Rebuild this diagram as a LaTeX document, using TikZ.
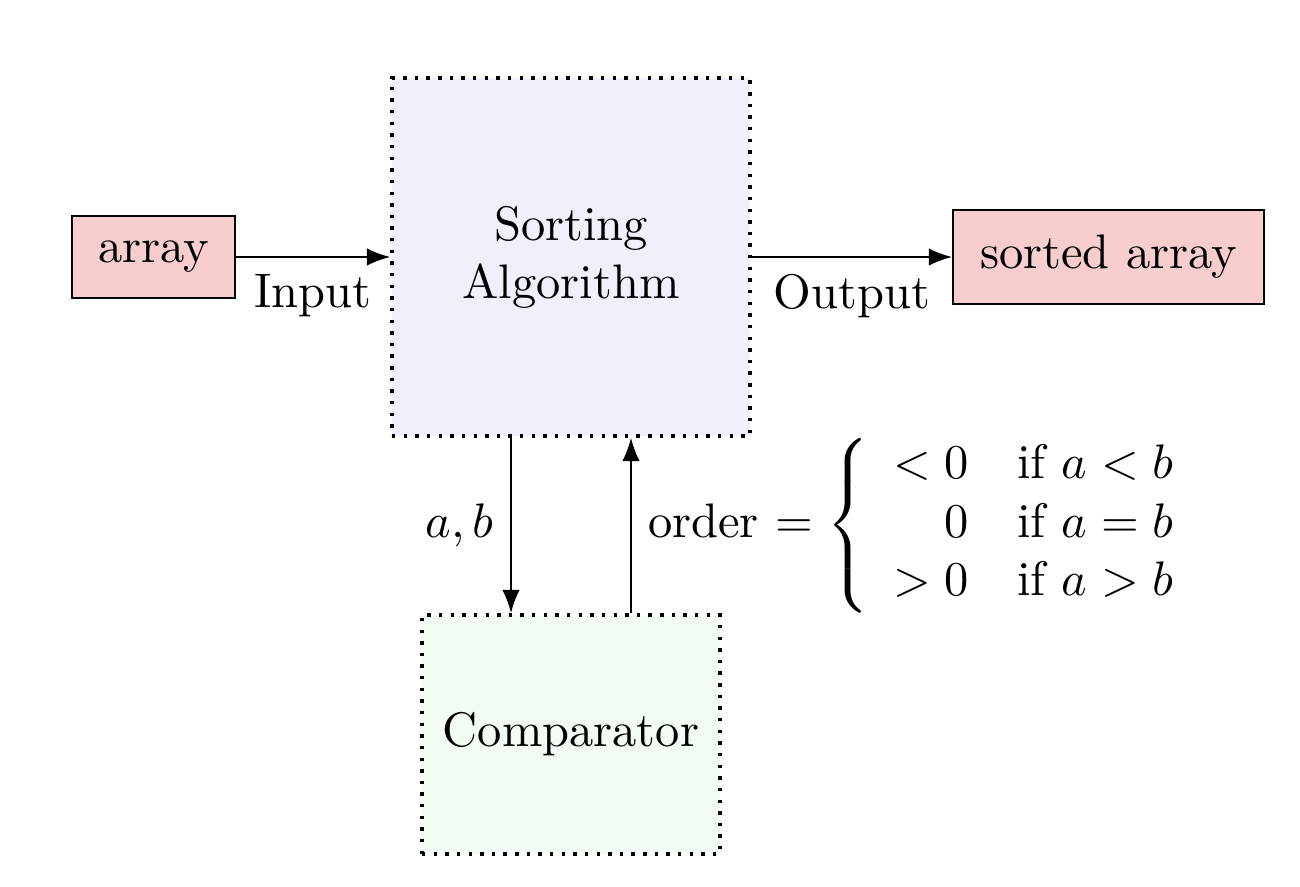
\documentclass[tikz,border=0pt]{standalone}
\usepackage{amsmath}
\usetikzlibrary{arrows.meta,calc}
\definecolor{boxpink}{RGB}{247,206,205}
\definecolor{boxblue}{RGB}{240,240,252}
\definecolor{boxgreen}{RGB}{242,252,242}
\begin{document}
\begin{tikzpicture}[x=0.2062pt,y=-0.2062pt,
  databox/.style={draw, fill=boxpink, line width=0.4pt, inner sep=0pt, align=center},
  procbox/.style={draw, line width=0.75pt, dash pattern=on 0.7pt off 1.7pt, inner sep=0pt, align=center},
  arr/.style={-{Latex[length=4.8pt,width=3.6pt]}, line width=0.4pt}]
\useasboundingbox (0,0) rectangle (1300,886);
\node[databox, minimum width=33.6pt, minimum height=16.9pt] (input) at (153.5,257) {array};
\node[procbox, fill=boxblue, minimum width=73.8pt, minimum height=73.8pt] (sort) at (571,257) {Sorting\\Algorithm};
\node[databox, minimum width=64.1pt, minimum height=19.4pt] (sorted) at (1108.5,257) {sorted array};
\node[procbox, fill=boxgreen, minimum width=61.45pt, minimum height=49.3pt] (cmp) at (571,734.5) {Comparator};
\draw[arr] (input) -- node[below]{Input} (sort);
\draw[arr] (sort) -- node[below]{Output} (sorted);
\draw[arr] ($(sort.south)+(-60,0)$) -- node[left]{$a,b$} ($(cmp.north)+(-60,0)$);
\draw[arr] ($(cmp.north)+(60,0)$) -- node[right]{order $=\left\{\begin{array}{rl} <0 & \text{if } a<b\\ 0 & \text{if } a=b\\ >0 & \text{if } a>b\end{array}\right.$} ($(sort.south)+(60,0)$);
\end{tikzpicture}
\end{document}
